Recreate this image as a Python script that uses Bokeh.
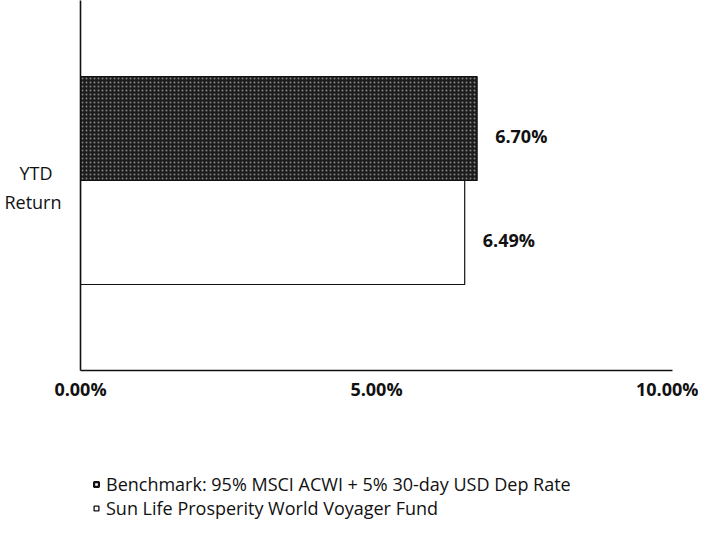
from bokeh.plotting import figure
from bokeh.layouts import column
from bokeh.models import Range1d, Legend, LegendItem, FixedTicker, ColumnDataSource
from bokeh.core.properties import value
from bokeh.embed import file_html
from bokeh.resources import INLINE

category = ["YTD\u2002\nReturn"]
series = ["Benchmark: 95% MSCI ACWI + 5% 30-day USD Dep Rate",
          "Sun Life Prosperity World Voyager Fund"]
values = [6.70, 6.49]
value_labels = ["6.70%", "6.49%"]
x_ticks = [0, 5, 10]
x_tick_labels = ["0.00%", "5.00%", "10.00%"]

FONT = "Open Sans"
INK = "#111111"
FS = "18px"

# vertical layout in screen-like units (frame is 370 px tall)
CAT_Y = 183
BAR_Y = [242, 138]
BAR_H = 104

p = figure(width=698, height=460, output_backend="svg", toolbar_location=None,
           x_range=Range1d(0, 10), y_range=Range1d(0, 370),
           min_border_left=80, min_border_right=26, min_border_top=0, min_border_bottom=90)
p.outline_line_color = None
p.xgrid.visible = False
p.ygrid.visible = False

src = ColumnDataSource(dict(y=BAR_Y, right=values, lab=value_labels))

p.hbar(y=[BAR_Y[0]], left=0, right=[values[0]], height=BAR_H,
       fill_color="#1c1c1c", line_color=INK, line_width=1.2,
       hatch_pattern="dot", hatch_color="white", hatch_alpha=0.45,
       hatch_scale=4, hatch_weight=1.5)
p.hbar(y=[BAR_Y[1]], left=0, right=[values[1]], height=BAR_H,
       fill_color="white", line_color=INK, line_width=1.2)

p.text(x="right", y="y", text="lab", source=src, x_offset=18, y_offset=7,
       text_font=value(FONT), text_font_size=FS, text_font_style="bold",
       text_baseline="middle", text_color=INK)

xa = p.xaxis[0]
xa.ticker = FixedTicker(ticks=x_ticks)
xa.major_label_overrides = {t: l for t, l in zip(x_ticks, x_tick_labels)}
xa.major_label_text_font = FONT
xa.major_label_text_font_size = FS
xa.major_label_text_font_style = "bold"
xa.major_label_text_color = INK
xa.major_label_standoff = 6
xa.major_tick_out = 0
xa.major_tick_in = 0
xa.major_tick_line_color = None
xa.minor_tick_line_color = None
xa.axis_line_color = INK
xa.axis_line_width = 1.6

ya = p.yaxis[0]
ya.ticker = FixedTicker(ticks=[CAT_Y])
ya.major_label_overrides = {CAT_Y: category[0]}
ya.major_label_text_font = FONT
ya.major_label_text_font_size = FS
ya.major_label_text_color = INK
ya.major_label_standoff = 19
ya.major_tick_out = 0
ya.major_tick_in = 0
ya.major_tick_line_color = None
ya.minor_tick_line_color = None
ya.axis_line_color = INK
ya.axis_line_width = 1.6

# legend figure below the chart
q = figure(width=698, height=60, output_backend="svg", toolbar_location=None,
           x_range=Range1d(0, 1), y_range=Range1d(0, 1),
           x_axis_type=None, y_axis_type=None,
           min_border_left=0, min_border_right=0, min_border_top=0, min_border_bottom=0)
q.outline_line_color = None
q.xgrid.visible = False
q.ygrid.visible = False

r1 = q.scatter(x=[-5], y=[-5], marker="square", size=9, fill_color="white",
               line_color=INK, line_width=2.2)
r2 = q.scatter(x=[-5], y=[-5], marker="square", size=9, fill_color="white",
               line_color=INK, line_width=1.3)
legend = Legend(items=[LegendItem(label=series[0], renderers=[r1]),
                       LegendItem(label=series[1], renderers=[r2])],
                location=(10, 0), orientation="vertical",
                border_line_color=None, background_fill_alpha=0,
                label_text_font=FONT, label_text_font_size=FS, label_text_color=INK,
                glyph_width=12, glyph_height=12, label_standoff=4, spacing=0,
                padding=0, margin=0, label_height=22)
q.add_layout(legend, "center")

layout = column(p, q, spacing=0)
open("out.html", "w").write(file_html(layout, INLINE))
